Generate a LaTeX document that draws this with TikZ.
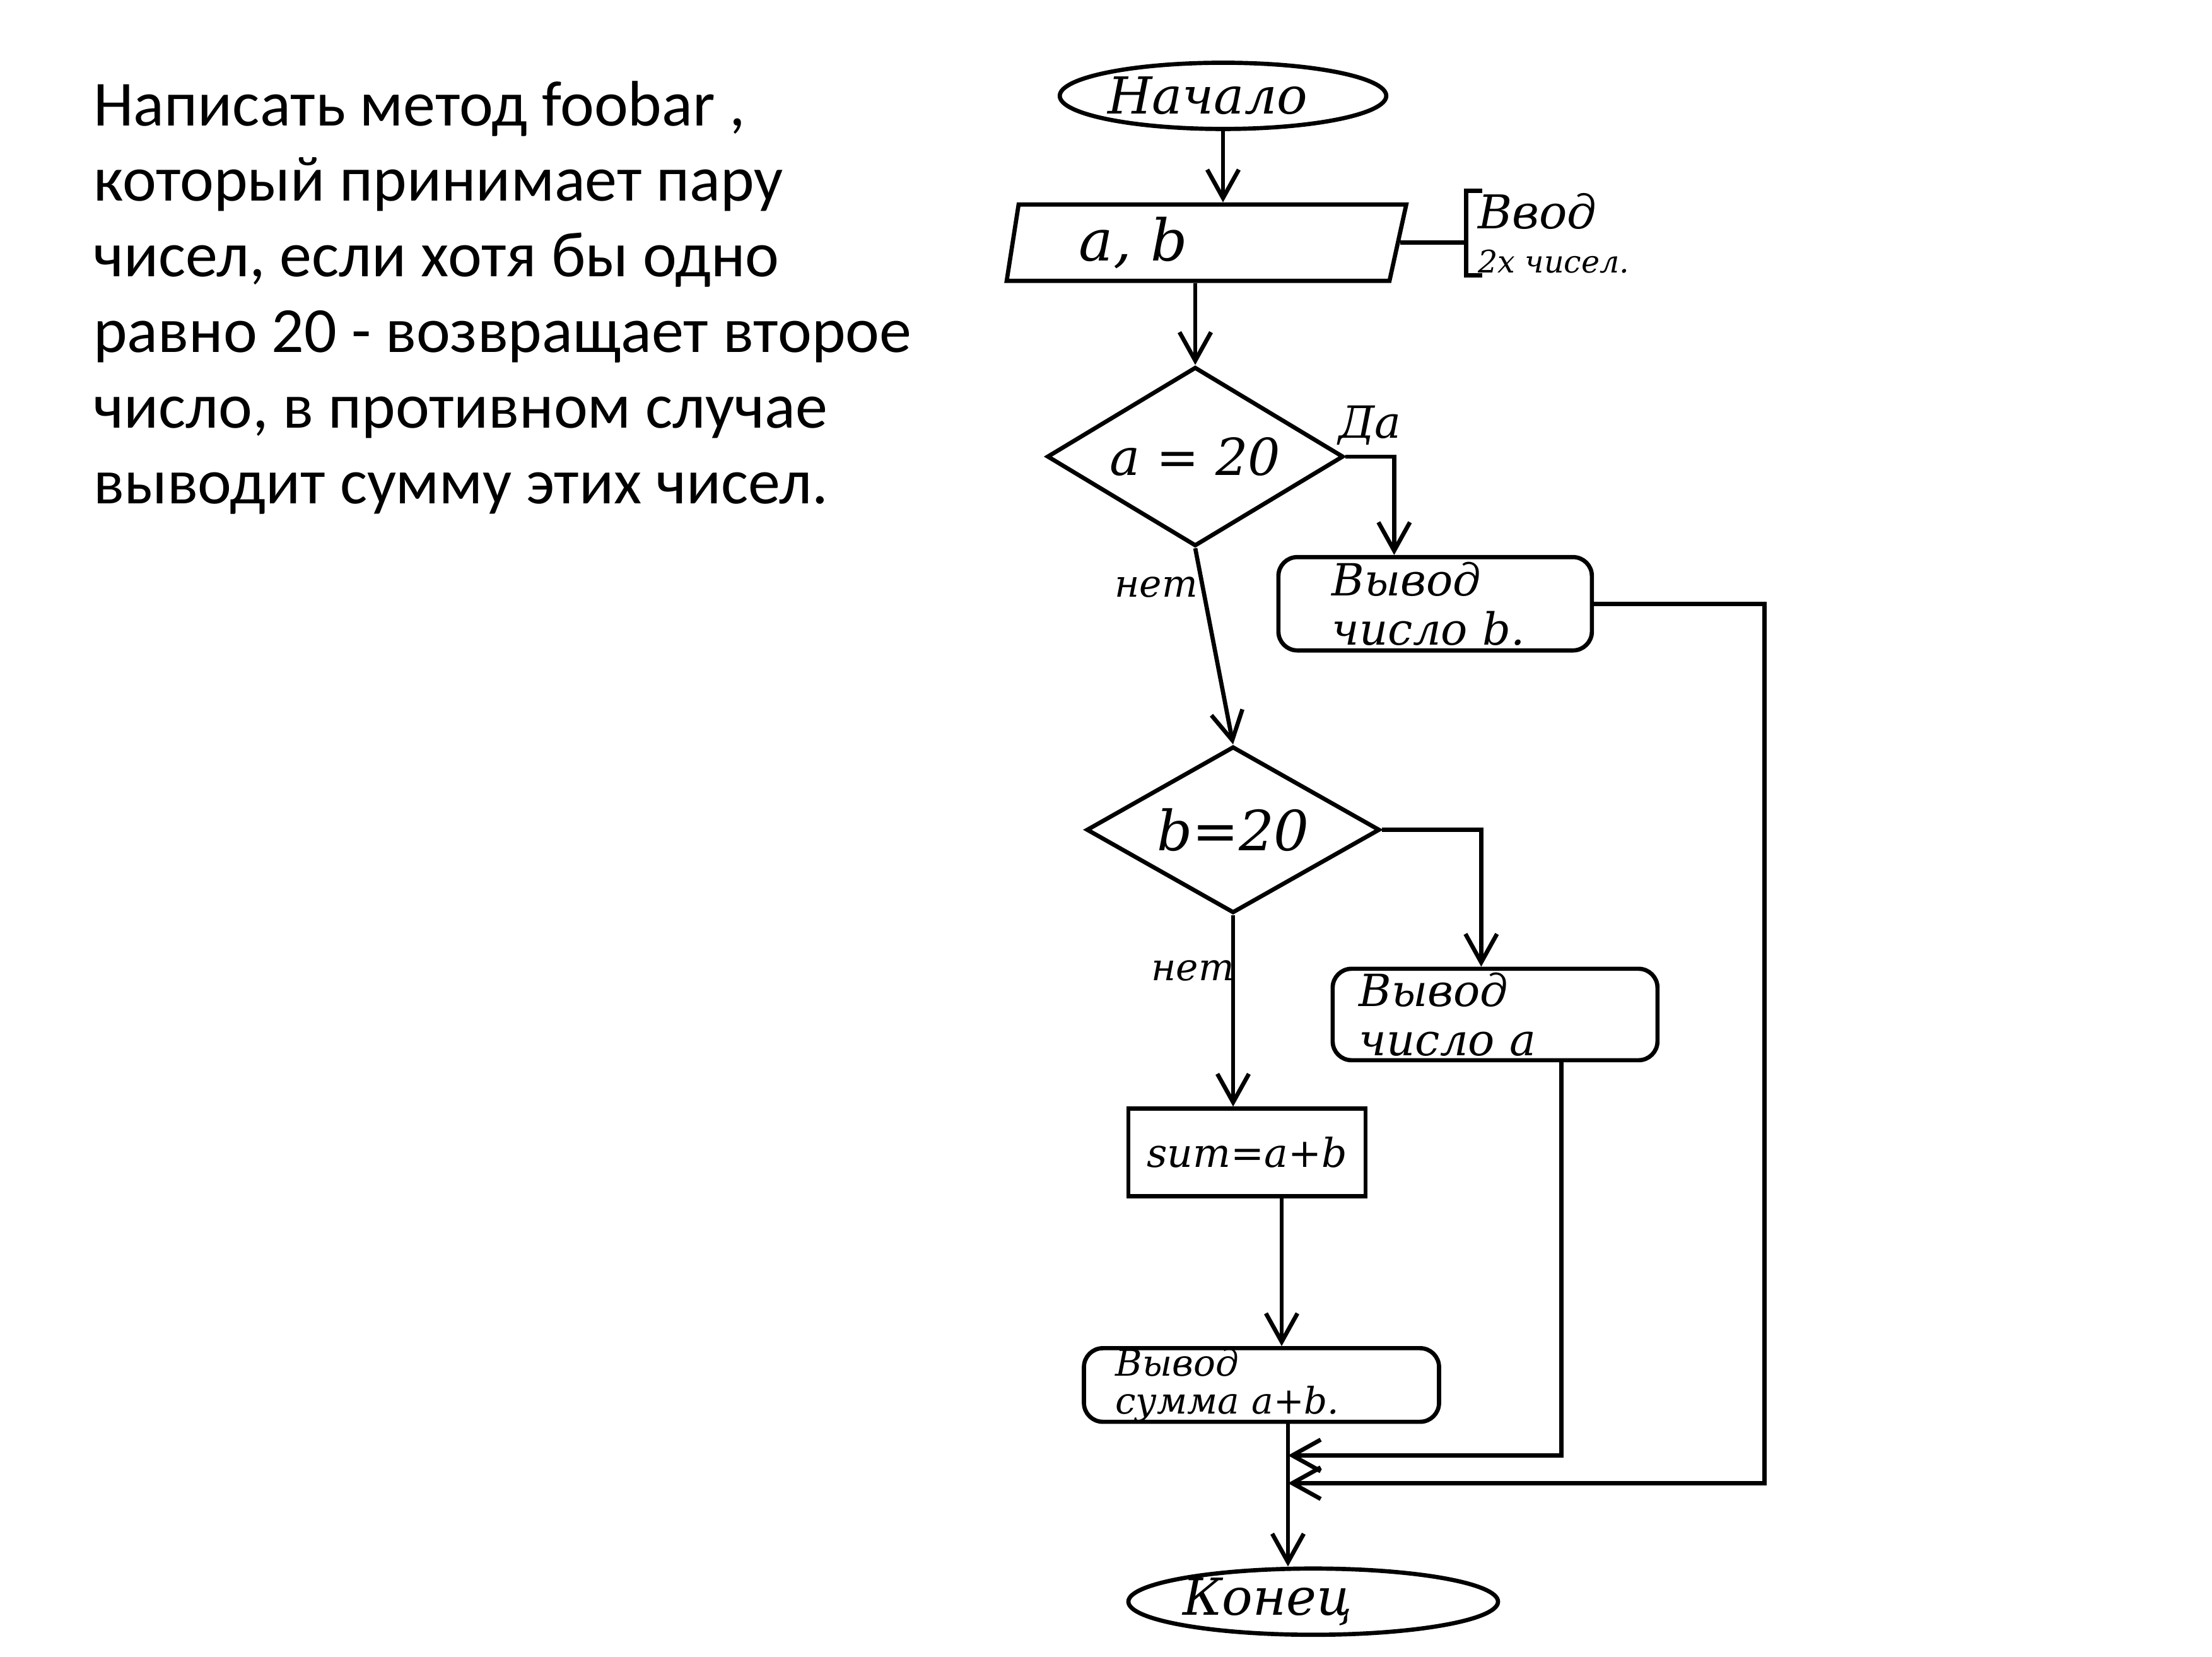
\documentclass[tikz,border=0pt]{standalone}
\usepackage{fontspec}
\setmainfont{Carlito}
\newfontfamily\hand{DejaVu Serif}
\usepackage{tikz}
\usetikzlibrary{arrows.meta,positioning,shapes.geometric}

\begin{document}
\begin{tikzpicture}[->,>={Straight Barb[length=4.5mm,width=5mm]},line width=1.9pt,
	term/.style={ellipse,draw,inner xsep=0pt,inner ysep=-1mm,align=left,font=\hand\itshape\fontsize{23}{26}\selectfont},
	io/.style={trapezium,trapezium left angle=77,trapezium right angle=108,trapezium stretches body,draw,
		minimum height=1.21cm,inner ysep=0pt,inner xsep=0.96cm,text width=3.96cm,align=left,
		font=\hand\itshape\fontsize{26}{28}\selectfont},
	test/.style={diamond,aspect=1.7,draw,inner sep=0pt,font=\hand\itshape\fontsize{23}{26}\selectfont},
	outbox/.style={rectangle,rounded corners=3mm,draw,inner ysep=0pt,align=left,
		font=\hand\itshape\fontsize{20}{22}\selectfont},
	calcbox/.style={rectangle,draw,inner sep=0pt,font=\hand\itshape\fontsize{18}{20}\selectfont},
	lbl/.style={inner sep=0.5mm,font=\hand\itshape\fontsize{17}{19}\selectfont}]

	\useasboundingbox (0,0) rectangle (35.07,26.27);

	\node[anchor=north west,align=left,inner sep=0pt,font=\fontsize{29}{34.1}\selectfont] (task) at (1.45,25.02)
		{Написать метод foobar ,\\который принимает пару\\чисел, если хотя бы одно\\равно 20 - возвращает второе\\число, в противном случае\\выводит сумму этих чисел.};

	\node[term,text width=3.66cm,minimum width=5.14cm,minimum height=1.05cm] (start) at (19.39,24.75) {Начало};
	\node[io] (input) [below=1.13cm of start,xshift=-3mm] {a, b};
	\node[right=1.05cm of input.east,yshift=1.5mm,align=left,inner xsep=1.5mm,inner ysep=0pt,minimum height=1.23cm,
		font=\hand\itshape\fontsize{21}{21}\selectfont] (note) {Ввод\\[-1pt]{\fontsize{14}{14}\selectfont 2х чисел.}};
	\node[test,minimum width=4.7cm,minimum height=2.84cm] (dec1) [below=1.30cm of input,xshift=-1.4mm] {a = 20};
	\node[outbox,minimum width=4.97cm,minimum height=1.48cm,inner xsep=0.85cm,text width=3.27cm] (out1)
		[below=1.56cm of dec1.east,xshift=14.2mm] {Вывод\\число b.};
	\node[test,minimum width=4.65cm,minimum height=2.64cm,font=\hand\itshape\fontsize{25}{27}\selectfont] (dec2)
		[below=3.11cm of dec1,xshift=6mm] {b=20};
	\node[outbox,minimum width=5.15cm,minimum height=1.45cm,inner xsep=0.42cm,text width=4.31cm] (out2)
		[below=2.17cm of dec2.east,xshift=17.95mm] {Вывод\\число a};
	\node[calcbox,minimum width=3.76cm,minimum height=1.39cm] (calc) [below=3.035cm of dec2,xshift=2.2mm] {sum=a+b};
	\node[outbox,minimum width=5.63cm,minimum height=1.12cm,inner xsep=0.5cm,text width=4.63cm,
		font=\hand\itshape\fontsize{16.5}{17}\selectfont] (out3) [below=2.34cm of calc,xshift=2.3mm] {Вывод\\сумма a+b.};
	\node[term,text width=4.14cm,minimum width=5.86cm,minimum height=1.05cm] (stop) [below=2.26cm of out3,xshift=8.2mm] {Конец};

	\draw (start) -- (start |- input.north);
	\draw (dec1 |- input.south) -- (dec1.north);
	\draw[-] (input.east) -- (input.east -| note.west);
	\draw[-] ([xshift=2.5mm]note.north west) -- (note.north west) -- (note.south west) -- ([xshift=2.5mm]note.south west);
	\draw (dec1.east) -| ([xshift=-6.5mm]out1.north) node[lbl,pos=0.25,above=1mm,font=\hand\itshape\fontsize{20}{22}\selectfont] {Да};
	\draw (dec1.south) -- node[lbl,pos=0.2,left] {нет} (dec2.north);
	\draw (dec2.east) -| ([xshift=-2.2mm]out2.north);
	\draw (dec2.south) -- node[lbl,pos=0.29,left,xshift=1mm] {нет} (dec2.south |- calc.north);
	\draw ([xshift=5.5mm]calc.south) -- ([xshift=5.5mm]calc.south |- out3.north);
	\draw ([xshift=4.2mm]out3.south) -- ([xshift=4.2mm]out3.south |- stop.north);
	\coordinate[below=5mm of out3.south,xshift=4.2mm] (j1);
	\coordinate[below=9.4mm of out3.south,xshift=4.2mm] (j2);
	\draw ([xshift=10.5mm]out2.south) |- (j1);
	\draw (out1.east) -- ++(2.7,0) |- (j2);

\end{tikzpicture}
\end{document}
